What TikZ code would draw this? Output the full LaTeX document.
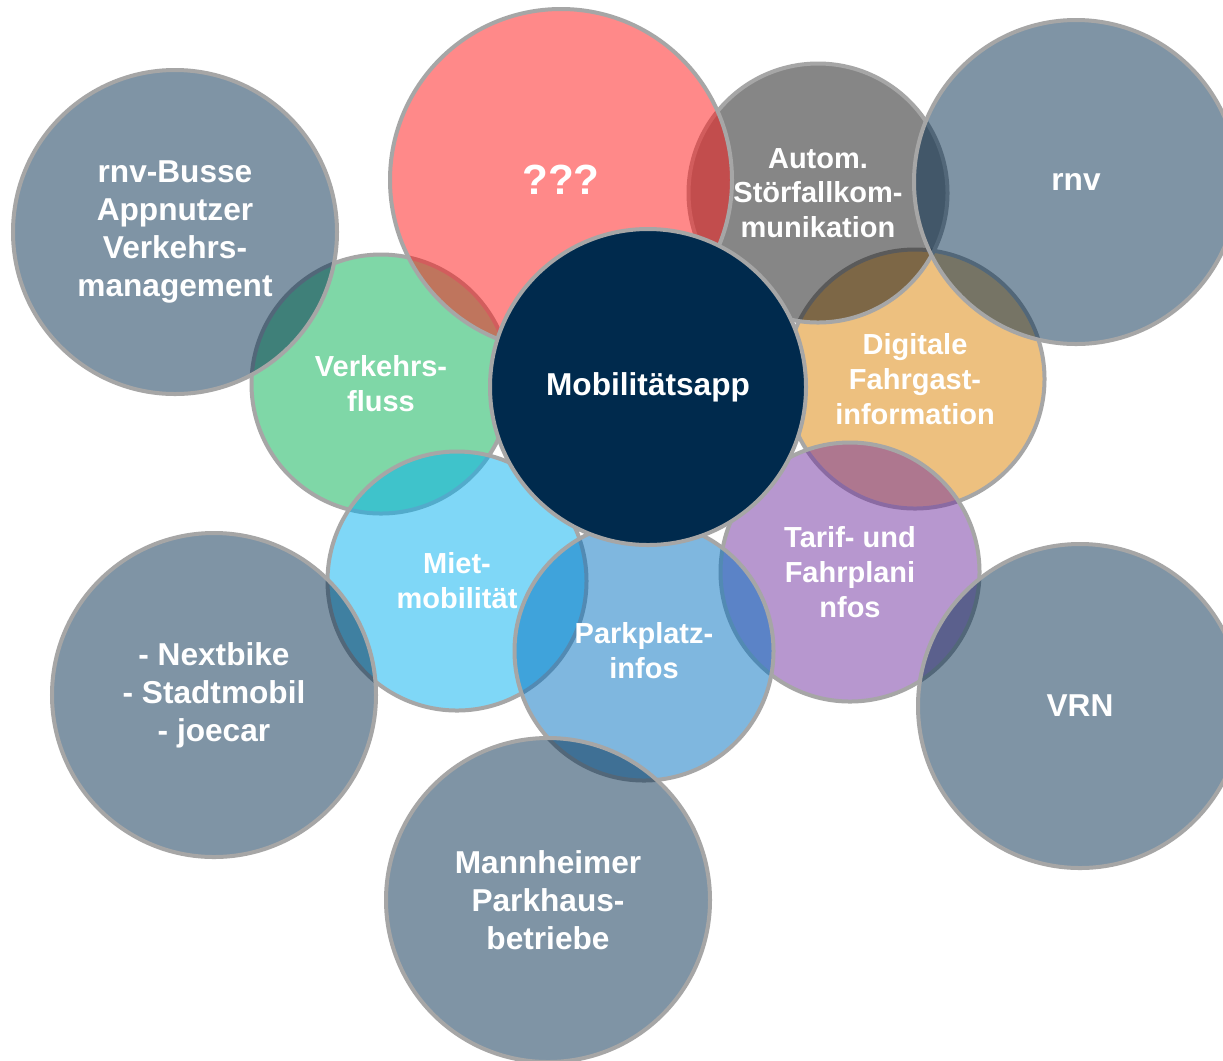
\documentclass[tikz,border=0pt]{standalone}
\usepackage{fontspec}
\setmainfont{Liberation Sans}
\definecolor{navy}{RGB}{0,42,77}
\definecolor{ring}{RGB}{166,166,166}
\definecolor{bred}{RGB}{255,21,21}
\definecolor{bgreen}{RGB}{0,176,80}
\definecolor{borange}{RGB}{220,130,0}
\definecolor{bgrey}{RGB}{15,15,15}
\definecolor{bcyan}{RGB}{0,176,240}
\definecolor{bblue}{RGB}{0,112,192}
\definecolor{bpurple}{RGB}{112,48,160}

\begin{document}
\begin{tikzpicture}[x=0.2mm,y=-0.2mm,
    bubble/.style={circle,draw=ring,line width=0.8mm,fill opacity=0.5,text opacity=1,
        text=white,align=center,inner sep=0pt,font=\bfseries\fontsize{16.5}{19.8}\selectfont},
    small/.style={bubble,minimum size=51.8mm},
    big/.style={bubble,minimum size=64.8mm,fill=navy,font=\bfseries\fontsize{18}{21.6}\selectfont}]
\fill[white] (0,0) rectangle (1223,1060);
\useasboundingbox (0,0) rectangle (1223,1060);

% Inner ring
\node[small,fill=bgreen] (fluss) at (381,384) {Verkehrs-\\fluss};
\node[small,fill=bcyan] (miete) at (457,581) {Miet-\\mobilität};
\node[small,fill=borange] (info) at (915,379) {Digitale\\Fahrgast-\\information};
\node[small,fill=bgrey] (stoer) at (818,193) {Autom.\\Störfallkom-\\munikation};
\node[bubble,minimum size=68.4mm,fill=bred,font=\bfseries\fontsize{24}{28}\selectfont] (offen) at (561,180) {???};
\node[small,fill=bpurple] (tarif) at (850,572) {Tarif- und\\Fahrplani\\nfos};
\node[small,fill=bblue] (park) at (644,651) {Parkplatz-\\infos};

% Partners
\node[big] (busse) at (175,232) {rnv-Busse\\Appnutzer\\Verkehrs-\\management};
\node[big] (rnv) at (1076,182) {rnv};
\node[big] (vrn) at (1080,706) {VRN};
\node[big] (sharing) at (214,695) {- Nextbike\\- Stadtmobil\\- joecar};
\node[big] (parkhaus) at (548,900) {Mannheimer\\Parkhaus-\\betriebe};

% Centre
\node[bubble,minimum size=63.2mm,fill=navy,fill opacity=1,font=\bfseries\fontsize{18}{21.6}\selectfont] (app) at (648,387) {Mobilitätsapp};
\end{tikzpicture}
\end{document}
